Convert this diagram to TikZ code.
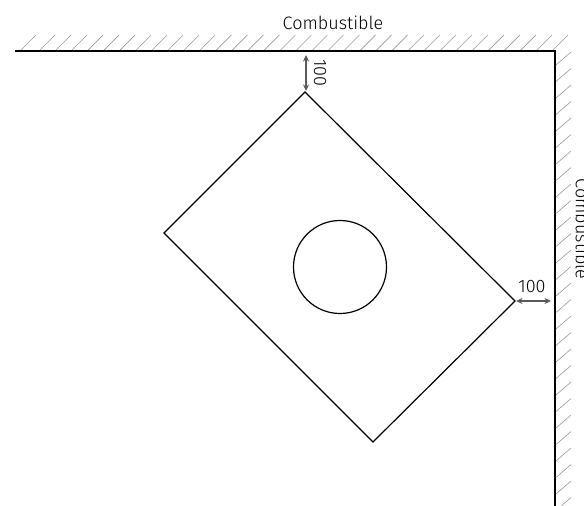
\documentclass[tikz,border=0pt]{standalone}
\usepackage{fontspec}
\setmainfont{Fira Sans Light}
\usetikzlibrary{arrows.meta}
\tikzset{
  wall/.style={line width=1.5pt,black},
  hatch/.style={line width=0.6pt,black!40},
  outline/.style={line width=1.2pt,black},
  dimline/.style={line width=1.2pt,black!65,{Stealth[length=6.5pt,width=6pt]}-{Stealth[length=6.5pt,width=6pt]}},
  lab/.style={inner sep=0pt,font=\fontsize{18}{20}\selectfont,text=black}
}
\begin{document}
\begin{tikzpicture}[x=1pt,y=-1pt]
\useasboundingbox (0,0) rectangle (584,506);
\clip (0,0) rectangle (584,506);
\coordinate (wallstart) at (15,51);
\coordinate (corner) at (555,51);
\coordinate (wallend) at (555,506);
\draw[hatch] (21,50) -- +(15,-15);
\foreach \i in {0,...,32} \draw[hatch] ({40+16.03*\i},50) -- +(15,-15);
\foreach \i in {0,...,27} \draw[hatch] (556,{65+16.5*\i}) -- +(15,-13);
\draw[wall,line join=miter] (wallstart) -- (corner) -- (wallend);
\coordinate (top) at (305,92);
\coordinate (right) at (515,301);
\coordinate (bottom) at (373,442);
\coordinate (left) at (164,233);
\draw[outline,line join=miter] (top) -- (right) -- (bottom) -- (left) -- cycle;
\node[draw,outline,circle,minimum size=93pt,inner sep=0pt] (flue) at (340,267) {};
\coordinate (topwall) at (306,55);
\coordinate (topend) at (306,91);
\coordinate (rightstart) at (516,301);
\coordinate (rightwall) at (551,301);
\draw[dimline] (topwall) -- (topend);
\draw[dimline] (rightstart) -- (rightwall);
\node[lab] (c1) at (333,23) {Combustible};
\node[lab,rotate=-90,anchor=center] (c2) at (582.5,229) {Combustible};
\node[lab,rotate=-90] (d1) at (320,73) {100};
\node[lab] (d2) at (532,287) {100};
\end{tikzpicture}
\end{document}
